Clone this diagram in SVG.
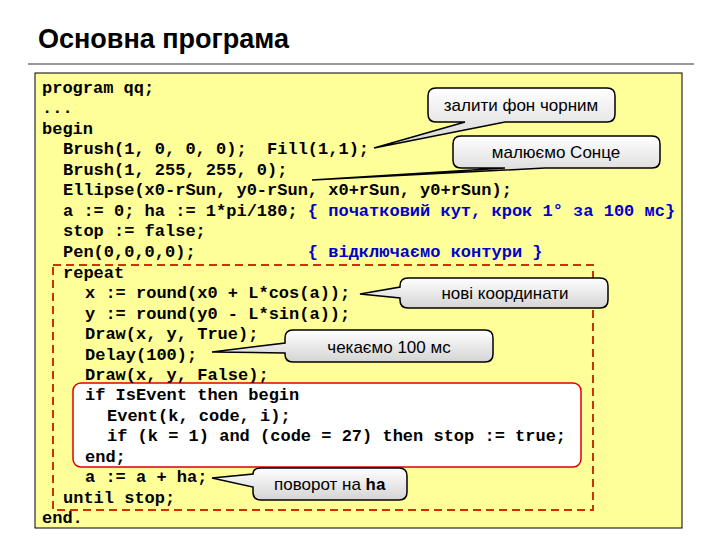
<svg xmlns="http://www.w3.org/2000/svg" width="720" height="540" viewBox="0 0 720 540">
<defs>
<linearGradient id="g" x1="0" y1="0" x2="0" y2="1"><stop offset="0" stop-color="#ffffff"/><stop offset="1" stop-color="#d4d4d4"/></linearGradient>
<style>
.c{font-family:"Liberation Mono",monospace;font-weight:bold;font-size:17px;fill:#000;white-space:pre}
.b{fill:#0000cc}
.co{fill:url(#g);stroke:#000;stroke-width:1.5}
.ct{font-family:"Liberation Sans",Arial,sans-serif;font-size:17px;fill:#000;text-anchor:middle}
</style>
</defs>
<rect width="720" height="540" fill="#fff"/>
<text x="38" y="48" font-family="Liberation Sans,Arial,sans-serif" font-weight="bold" font-size="27">Основна програма</text>
<rect x="28" y="63" width="666" height="2" fill="#999"/>
<rect x="35" y="73" width="647" height="455" fill="#ffff99" stroke="#000" stroke-width="1"/>
<rect x="53" y="265" width="540" height="245" fill="none" stroke="#cc3300" stroke-width="2" stroke-dasharray="8,5"/>
<rect x="73" y="383" width="508" height="84" rx="8" fill="#fff" stroke="#dd0000" stroke-width="1.5"/>
<g id="code" xml:space="preserve">
<text class="c" x="42" y="93">program qq;</text>
<text class="c" x="42" y="113">...</text>
<text class="c" x="42" y="134">begin</text>
<text class="c" x="63" y="154">Brush(1, 0, 0, 0);  Fill(1,1);</text>
<text class="c" x="63" y="175">Brush(1, 255, 255, 0);</text>
<text class="c" x="63" y="195">Ellipse(x0-rSun, y0-rSun, x0+rSun, y0+rSun);</text>
<text class="c" x="63" y="216">a := 0; ha := 1*pi/180; <tspan class="b">{ початковий кут, крок 1° за 100 мс}</tspan></text>
<text class="c" x="63" y="236">stop := false;</text>
<text class="c" x="63" y="257">Pen(0,0,0,0);           <tspan class="b">{ відключаємо контури }</tspan></text>
<text class="c" x="63" y="278">repeat</text>
<text class="c" x="85" y="298">x := round(x0 + L*cos(a));</text>
<text class="c" x="85" y="319">y := round(y0 - L*sin(a));</text>
<text class="c" x="85" y="339">Draw(x, y, True);</text>
<text class="c" x="85" y="360">Delay(100);</text>
<text class="c" x="85" y="380">Draw(x, y, False);</text>
<text class="c" x="85" y="400">if IsEvent then begin</text>
<text class="c" x="107" y="421">Event(k, code, i);</text>
<text class="c" x="107" y="441">if (k = 1) and (code = 27) then stop := true;</text>
<text class="c" x="85" y="462">end;</text>
<text class="c" x="85" y="482">a := a + ha;</text>
<text class="c" x="63" y="503">until stop;</text>
<text class="c" x="42" y="523">end.</text>
</g>
<g id="connectors"></g>
<g id="callout1">
<path class="co" d="M436,88 H607 Q615,88 615,96 V114 Q615,122 607,122 H505 L374,148 L465,122 H436 Q428,122 428,114 V96 Q428,88 436,88 Z"/>
<text class="ct" x="521" y="111">залити фон чорним</text>
</g>
<g id="callout2">
<path class="co" d="M461,136 H652 Q660,136 660,144 V160 Q660,168 652,168 H545 L312,180 L505,168 H461 Q453,168 453,160 V144 Q453,136 461,136 Z"/>
<text class="ct" x="556" y="158">малюємо Сонце</text>
</g>
<g id="callout3">
<path class="co" d="M408,278 H600 Q608,278 608,286 V300 Q608,308 600,308 H408 Q400,308 400,300 V298 L360,294 L400,287 V286 Q400,278 408,278 Z"/>
<text class="ct" x="505" y="299">нові координати</text>
</g>
<g id="callout4">
<path class="co" d="M293,330 H485 Q493,330 493,338 V354 Q493,362 485,362 H293 Q285,362 285,354 V353 L212,352 L285,343 V338 Q285,330 293,330 Z"/>
<text class="ct" x="389" y="353">чекаємо 100 мс</text>
</g>
<g id="callout5">
<path class="co" d="M261,468 H399 Q407,468 407,476 V492 Q407,500 399,500 H261 Q253,500 253,492 V487 L212,478 L253,474 Q253,468 261,468 Z"/>
<text class="ct" x="330" y="490">поворот на <tspan font-family="Liberation Mono,monospace" font-weight="bold">ha</tspan></text>
</g>
</svg>
